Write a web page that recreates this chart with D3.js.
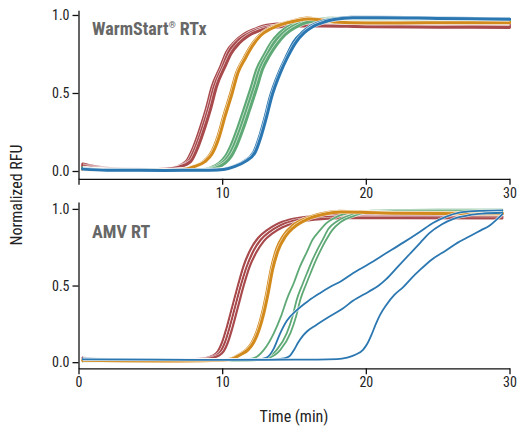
<!DOCTYPE html>
<html><head><meta charset="utf-8">
<script src="https://cdn.jsdelivr.net/npm/d3@7"></script>
<style>
html,body{margin:0;padding:0;background:#fff;}
text{font-family:"Liberation Sans Narrow","Roboto Condensed","Arial Narrow","DejaVu Sans Condensed",sans-serif;}
</style></head>
<body><svg id="c" width="518" height="427"></svg>
<script>
// ---- data: [time (min), normalized RFU] ----
const xTicks = [0, 10, 20, 30];
const yTicks = [0, 0.5, 1.0];
const panelTitles = ["WarmStart", "AMV RT"];

// Top panel (WarmStart RTx)
const topRed1 = [[0.3,0.045],[1,0.03],[2,0.018],[3,0.012],[5,0.01],[6,0.012],[6.8,0.025],[7.5,0.06],[8.0,0.15],[8.5,0.28],[8.9,0.4],[9.3,0.54],[9.9,0.67],[10.3,0.76],[10.9,0.83],[11.5,0.875],[12.3,0.91],[13.1,0.935],[14.5,0.945],[16,0.945],[20,0.94],[25,0.935],[30,0.935]];
const topRed2 = [[0.3,0.035],[1,0.025],[2,0.015],[3,0.011],[5,0.01],[6,0.012],[6.9,0.025],[7.65,0.06],[8.15,0.15],[8.65,0.28],[9.05,0.4],[9.45,0.54],[10.05,0.67],[10.45,0.76],[11.05,0.83],[11.65,0.87],[12.45,0.905],[13.3,0.925],[14.7,0.935],[16,0.935],[20,0.93],[25,0.928],[30,0.925]];
const topRed3 = [[0.3,0.03],[1,0.02],[2,0.013],[3,0.01],[5,0.01],[6.1,0.012],[7.0,0.025],[7.8,0.06],[8.3,0.15],[8.8,0.28],[9.2,0.4],[9.6,0.54],[10.2,0.67],[10.6,0.75],[11.2,0.82],[11.8,0.865],[12.6,0.9],[13.5,0.92],[15,0.93],[17,0.93],[20,0.925],[25,0.922],[30,0.92]];
const topOrange1 = [[0.3,0.01],[3,0.006],[6,0.006],[7.3,0.012],[8.0,0.03],[8.7,0.06],[9.2,0.11],[9.7,0.22],[10.1,0.35],[10.6,0.5],[11.0,0.63],[11.5,0.72],[12.0,0.8],[12.6,0.87],[13.3,0.915],[14.0,0.94],[15.0,0.965],[15.9,0.98],[16.8,0.97],[17.7,0.955],[20,0.95],[25,0.952],[30,0.953]];
const topOrange2 = [[0.3,0.01],[3,0.006],[6,0.006],[7.4,0.012],[8.1,0.03],[8.8,0.06],[9.3,0.11],[9.8,0.22],[10.2,0.35],[10.7,0.5],[11.1,0.63],[11.6,0.72],[12.1,0.8],[12.7,0.87],[13.4,0.912],[14.1,0.938],[15.1,0.962],[16.0,0.975],[16.9,0.968],[17.8,0.955],[20,0.948],[25,0.95],[30,0.95]];
const topGreen1 = [[0.3,0.02],[2,0.008],[6,0.005],[8.5,0.008],[9.2,0.02],[9.8,0.05],[10.2,0.09],[10.6,0.16],[11.1,0.28],[11.5,0.39],[12.0,0.53],[12.4,0.65],[12.9,0.74],[13.4,0.82],[14.0,0.885],[14.7,0.93],[15.4,0.955],[16.8,0.975],[18,0.98],[22,0.98],[26,0.975],[30,0.97]];
const topGreen2 = [[0.3,0.018],[2,0.008],[6,0.005],[8.7,0.008],[9.4,0.02],[10.0,0.05],[10.4,0.09],[10.8,0.16],[11.3,0.28],[11.7,0.39],[12.2,0.53],[12.6,0.65],[13.1,0.74],[13.6,0.82],[14.2,0.88],[14.9,0.925],[15.6,0.952],[17.0,0.972],[18.2,0.978],[22,0.978],[26,0.973],[30,0.968]];
const topGreen3 = [[0.3,0.016],[2,0.008],[6,0.005],[8.9,0.008],[9.6,0.02],[10.2,0.05],[10.6,0.09],[11.0,0.16],[11.5,0.28],[11.9,0.39],[12.4,0.53],[12.8,0.65],[13.3,0.74],[13.8,0.81],[14.4,0.875],[15.1,0.92],[15.8,0.95],[17.2,0.97],[18.4,0.976],[22,0.976],[26,0.97],[30,0.965]];
const topBlue1 = [[0.3,0.015],[2,0.006],[6,0.004],[9,0.005],[10,0.01],[10.8,0.03],[11.5,0.06],[12.2,0.12],[12.6,0.22],[13.0,0.35],[13.3,0.46],[14.0,0.64],[14.4,0.72],[15.0,0.83],[15.6,0.89],[16.2,0.93],[17.0,0.96],[17.8,0.975],[19,0.985],[21,0.985],[25,0.98],[30,0.975]];
const topBlue2 = [[0.3,0.012],[2,0.005],[6,0.004],[9.1,0.005],[10.1,0.01],[10.9,0.03],[11.6,0.06],[12.3,0.12],[12.7,0.22],[13.1,0.35],[13.4,0.46],[14.1,0.64],[14.5,0.72],[15.1,0.82],[15.7,0.885],[16.3,0.925],[17.1,0.955],[17.9,0.972],[19.1,0.982],[21,0.983],[25,0.978],[30,0.972]];

// Bottom panel (AMV RT)
const botRed1 = [[0.3,0.03],[1,0.022],[3,0.018],[6,0.018],[8,0.02],[8.8,0.025],[9.3,0.04],[9.7,0.07],[10.0,0.13],[10.3,0.22],[10.7,0.36],[11.1,0.5],[11.5,0.63],[12.0,0.74],[12.5,0.81],[13.1,0.86],[13.8,0.9],[14.7,0.93],[16,0.95],[18,0.96],[22,0.955],[29.5,0.95]];
const botRed2 = [[0.3,0.028],[1,0.021],[3,0.018],[6,0.018],[8.2,0.02],[9.0,0.025],[9.5,0.04],[9.9,0.07],[10.2,0.13],[10.5,0.22],[10.9,0.36],[11.3,0.5],[11.7,0.62],[12.2,0.73],[12.7,0.8],[13.3,0.85],[14.0,0.89],[14.9,0.92],[16.2,0.94],[18.2,0.95],[22,0.948],[29.5,0.945]];
const botRed3 = [[0.3,0.026],[1,0.02],[3,0.017],[6,0.017],[8.4,0.02],[9.2,0.025],[9.7,0.04],[10.1,0.07],[10.4,0.13],[10.7,0.22],[11.1,0.36],[11.5,0.5],[11.9,0.62],[12.4,0.72],[12.9,0.79],[13.5,0.84],[14.2,0.88],[15.1,0.91],[16.4,0.93],[18.4,0.94],[22,0.94],[29.5,0.938]];
const botOrange1 = [[0.3,0.012],[3,0.01],[7,0.008],[10,0.012],[10.7,0.025],[11.2,0.05],[11.7,0.08],[12.1,0.13],[12.5,0.22],[12.8,0.32],[13.1,0.45],[13.4,0.6],[13.8,0.74],[14.3,0.83],[14.9,0.89],[15.9,0.94],[17.0,0.97],[18.2,0.985],[19.5,0.98],[22,0.975],[29.5,0.972]];
const botOrange2 = [[0.3,0.012],[3,0.01],[7,0.008],[10.1,0.012],[10.8,0.025],[11.3,0.05],[11.8,0.08],[12.2,0.13],[12.6,0.22],[12.9,0.32],[13.2,0.45],[13.5,0.6],[13.9,0.73],[14.4,0.82],[15.0,0.88],[16.0,0.935],[17.1,0.965],[18.3,0.98],[19.6,0.978],[22,0.972],[29.5,0.968]];
const botGreen1 = [[0.3,0.005],[5,0.005],[10,0.008],[11.5,0.015],[12.3,0.03],[12.9,0.08],[13.6,0.19],[14.1,0.3],[14.5,0.41],[15.0,0.52],[15.4,0.62],[15.9,0.72],[16.3,0.8],[16.8,0.86],[17.3,0.91],[18.0,0.95],[19.0,0.975],[21,0.99],[25,0.995],[29.5,0.995]];
const botGreen2 = [[0.3,0.005],[5,0.005],[10,0.008],[12.0,0.012],[13.1,0.03],[13.8,0.08],[14.5,0.19],[14.9,0.3],[15.2,0.41],[15.6,0.51],[15.9,0.58],[16.3,0.67],[16.6,0.73],[17.0,0.8],[17.4,0.87],[18.0,0.92],[18.8,0.955],[19.8,0.98],[22,0.99],[29.5,0.99]];
const botGreen3 = [[0.3,0.005],[5,0.005],[10,0.008],[12.2,0.012],[13.3,0.03],[14.05,0.08],[14.75,0.19],[15.15,0.3],[15.45,0.41],[15.85,0.51],[16.15,0.58],[16.55,0.67],[16.85,0.73],[17.25,0.8],[17.65,0.86],[18.25,0.915],[19.05,0.95],[20.0,0.975],[22,0.985],[29.5,0.985]];
const botBlue1 = [[0.3,0.025],[2,0.02],[6,0.017],[10,0.015],[12.5,0.018],[13.1,0.03],[13.6,0.09],[14.0,0.18],[14.5,0.27],[15.2,0.34],[16.0,0.4],[16.8,0.45],[17.5,0.49],[18.3,0.53],[19.1,0.58],[20.2,0.64],[21.4,0.71],[22.6,0.78],[23.75,0.85],[24.7,0.91],[25.6,0.95],[26.5,0.975],[27.5,0.985],[29.5,0.99]];
const botBlue2 = [[0.3,0.02],[5,0.017],[10,0.015],[13.5,0.017],[14.3,0.025],[14.7,0.04],[15.0,0.08],[15.3,0.13],[15.6,0.17],[15.9,0.2],[16.5,0.24],[17.5,0.3],[18.4,0.35],[19.1,0.4],[20.2,0.46],[20.9,0.5],[21.4,0.54],[22.2,0.62],[23.1,0.71],[23.8,0.78],[24.4,0.84],[25.3,0.9],[26.1,0.935],[27.2,0.96],[28.2,0.97],[29.5,0.975]];
const botBlue3 = [[0.3,0.018],[5,0.016],[10,0.015],[15,0.016],[18,0.02],[18.7,0.03],[19.3,0.05],[19.8,0.08],[20.1,0.12],[20.4,0.18],[20.7,0.25],[21.0,0.31],[21.4,0.37],[22.0,0.44],[22.6,0.49],[23.2,0.55],[23.75,0.6],[24.6,0.67],[25.6,0.73],[26.4,0.78],[27.2,0.82],[28.0,0.86],[28.6,0.89],[29.1,0.93],[29.5,0.965]];

const colors = {red:"#a8494c", orange:"#d38a1c", green:"#5ea975", blue:"#2b77b1"};

// ---- drawing ----
const svg = d3.select("#c");
const x = d3.scaleLinear().domain([0,30]).range([78.5,509.5]);
const yTop = d3.scaleLinear().domain([-0.05,1.03]).range([178.8,10.3]);
const yBot = d3.scaleLinear().domain([-0.04,1.045]).range([368.3,202]);

const topSeries = [
  {d:topRed1,c:"red",w:3},{d:topRed2,c:"red",w:3},{d:topRed3,c:"red",w:3},
  {d:topGreen1,c:"green",w:3},{d:topGreen2,c:"green",w:3},{d:topGreen3,c:"green",w:3},
  {d:topOrange1,c:"orange",w:3},{d:topOrange2,c:"orange",w:3},
  {d:topBlue1,c:"blue",w:3},{d:topBlue2,c:"blue",w:3}
];
const botSeries = [
  {d:botRed1,c:"red",w:2.2},{d:botRed2,c:"red",w:2.2},{d:botRed3,c:"red",w:2.2},
  {d:botGreen1,c:"green",w:1.8},{d:botGreen2,c:"green",w:1.8},{d:botGreen3,c:"green",w:1.8},
  {d:botOrange1,c:"orange",w:3},{d:botOrange2,c:"orange",w:3},
  {d:botBlue1,c:"blue",w:1.8},{d:botBlue2,c:"blue",w:1.8},{d:botBlue3,c:"blue",w:1.8}
];

function panel(series, y, showZero, title, sup, rest, titleY){
  const line = d3.line().x(d=>x(d[0])).y(d=>y(d[1])).curve(d3.curveMonotoneX);
  const g = svg.append("g");
  series.forEach(s=>{
    g.append("path").attr("d",line(s.d)).attr("fill","none")
      .attr("stroke","#fff").attr("stroke-opacity",0.8).attr("stroke-width",s.w+1.2).attr("stroke-linejoin","round");
    g.append("path").attr("d",line(s.d)).attr("fill","none")
      .attr("stroke",colors[s.c]).attr("stroke-width",s.w).attr("stroke-linejoin","round").attr("stroke-linecap","round");
  });
  const ya = svg.append("g").attr("transform",`translate(${x(0)},0)`)
    .call(d3.axisLeft(y).tickValues(yTicks).tickFormat(d3.format(".1f")).tickSize(6).tickSizeOuter(0).tickPadding(3));
  const xa = svg.append("g").attr("transform",`translate(0,${y.range()[0]})`)
    .call(d3.axisBottom(x).tickValues(xTicks).tickFormat(d3.format("d")).tickSize(6).tickSizeOuter(0).tickPadding(3));
  [ya,xa].forEach(a=>{
    a.selectAll("path,line").attr("stroke","#111").attr("stroke-width",1.3);
    a.selectAll("text").attr("font-size",14).attr("fill","#222")
     .style("font-family",'"Liberation Sans Narrow","Roboto Condensed","Arial Narrow","DejaVu Sans Condensed",sans-serif');
  });
  if(!showZero) xa.selectAll(".tick text").filter(d=>d===0).remove();
  const t = svg.append("text").attr("x",92).attr("y",titleY).attr("font-size",18)
    .attr("font-weight","bold").attr("fill","#676767");
  t.append("tspan").text(title);
  if(sup){ t.append("tspan").attr("font-size",9).attr("dy",-7).text(sup); t.append("tspan").attr("dy",7).text(rest); }
}
panel(topSeries, yTop, false, panelTitles[0], "®", " RTx", 35);
panel(botSeries, yBot, true, panelTitles[1], null, null, 238);

svg.append("text").attr("transform","translate(22,195) rotate(-90)").attr("text-anchor","middle")
  .attr("font-size",16).attr("fill","#222").text("Normalized RFU");
svg.append("text").attr("x",294).attr("y",422).attr("text-anchor","middle")
  .attr("font-size",16).attr("fill","#222").text("Time (min)");
</script></body></html>
